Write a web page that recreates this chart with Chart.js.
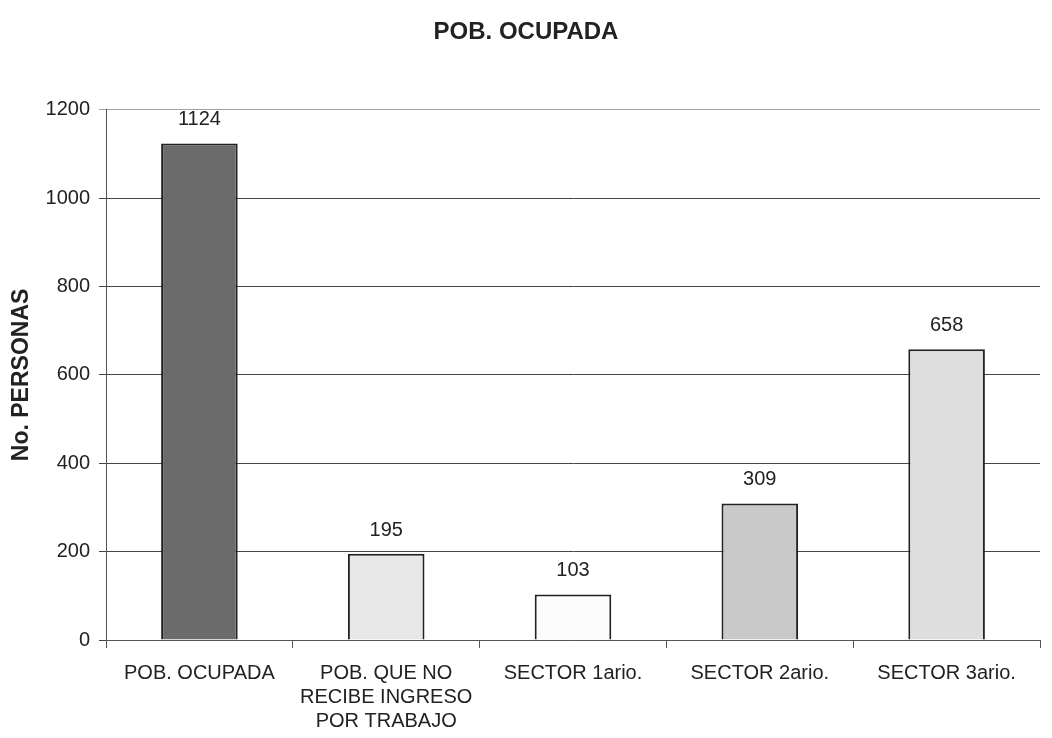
<!DOCTYPE html>
<html>
<head>
<meta charset="utf-8">
<script src="https://cdn.jsdelivr.net/npm/chart.js@4/dist/chart.umd.min.js"></script>
<style>
  html, body { margin: 0; padding: 0; background: #fff; }
  #wrap { width: 1052px; height: 738px; }
</style>
</head>
<body>
<div id="wrap"><canvas id="chart"></canvas></div>
<script>
const categories = [
    'POB. OCUPADA',
    ['POB. QUE NO', 'RECIBE INGRESO', 'POR TRABAJO'],
    'SECTOR 1ario.',
    'SECTOR 2ario.',
    'SECTOR 3ario.'
];
const personas = [1124, 195, 103, 309, 658];
const barColors = ['#6b6b6b', '#e8e8e8', '#fcfcfc', '#c9c9c9', '#dedede'];
const yTicks = [0, 200, 400, 600, 800, 1000, 1200];

const fontFamily = '"Liberation Sans", Arial, sans-serif';

// numbers above each bar
const valueLabels = {
    id: 'valueLabels',
    afterDatasetsDraw(chart) {
        const ctx = chart.ctx;
        const meta = chart.getDatasetMeta(0);
        ctx.save();
        ctx.font = '20px ' + fontFamily;
        ctx.fillStyle = '#222';
        ctx.textAlign = 'center';
        ctx.textBaseline = 'alphabetic';
        meta.data.forEach((bar, i) => {
            ctx.fillText(String(personas[i]), bar.x, bar.y - 18);
        });
        ctx.restore();
    }
};

const ctx = document.getElementById('chart').getContext('2d');
new Chart(ctx, {
    type: 'bar',
    data: {
        labels: categories,
        datasets: [{
            data: personas,
            backgroundColor: barColors,
            borderColor: '#222',
            borderWidth: 2,
            categoryPercentage: 0.41,
            barPercentage: 1
        }]
    },
    options: {
        responsive: true,
        maintainAspectRatio: false,
        animation: false,
        layout: { padding: 0 },
        plugins: {
            legend: { display: false },
            tooltip: { enabled: false },
            title: {
                display: true,
                text: 'POB. OCUPADA',
                color: '#222',
                font: { family: fontFamily, size: 24, weight: 'bold' },
                padding: { top: 18, bottom: 63 }
            }
        },
        scales: {
            x: {
                offset: true,
                grid: {
                    offset: true,
                    drawOnChartArea: false,
                    drawTicks: true,
                    tickLength: 8,
                    color: '#555'
                },
                border: { color: '#555', width: 1 },
                ticks: {
                    color: '#222',
                    font: { family: fontFamily, size: 20, lineHeight: 1.2 },
                    maxRotation: 0,
                    autoSkip: false,
                    padding: 13
                },
                afterFit(scale) { scale.height = 98; }
            },
            y: {
                min: 0,
                max: 1200,
                afterBuildTicks(scale) { scale.ticks = yTicks.map(v => ({ value: v })); },
                grid: {
                    color: (c) => c.tick && c.tick.value === 1200 ? '#a0a0a0' : '#444',
                    drawTicks: true,
                    tickLength: 7
                },
                border: { color: '#555', width: 1 },
                ticks: {
                    color: '#222',
                    font: { family: fontFamily, size: 20 },
                    padding: 9,
                    callback: (v) => String(v)
                },
                title: {
                    display: true,
                    text: 'No. PERSONAS',
                    color: '#222',
                    font: { family: fontFamily, size: 23, weight: 'bold' },
                    padding: { top: 8, bottom: 0 }
                },
                afterFit(scale) { scale.width = 106; }
            },
            // empty right-hand axis, only keeps a small margin so the title stays centred on the page
            yRight: {
                position: 'right',
                display: true,
                grid: { display: false },
                border: { display: false },
                ticks: { display: false },
                afterFit(scale) { scale.width = 12; }
            }
        }
    },
    plugins: [valueLabels]
});
</script>
</body>
</html>
